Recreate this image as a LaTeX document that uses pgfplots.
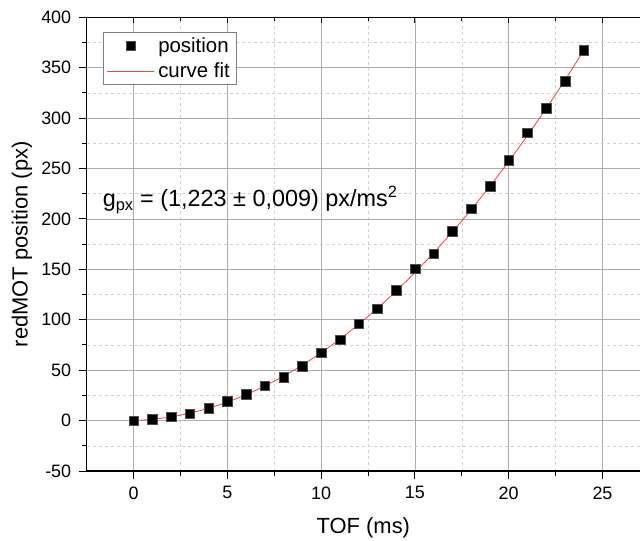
\documentclass[border=0pt]{standalone}
\usepackage{pgfplots}
\pgfplotsset{compat=1.18}
\usepackage{fontspec}
\setmainfont{Liberation Sans}
\definecolor{fitred}{RGB}{255,60,60}

\begin{document}
\begin{tikzpicture}
\begin{axis}[
  scale only axis, width=553.3bp, height=453.7bp,
  xmin=-2.5, xmax=27, ymin=-50, ymax=400,
  axis x line*=box, axis y line*=left,
  xtick pos=bottom,
  xtick={0,5,...,25}, ytick={-50,0,...,400},
  minor x tick num=1, minor y tick num=1,
  tick align=outside,
  major tick length=8bp, minor tick length=4.5bp,
  grid=both,
  major grid style={gray!65, line width=0.6bp},
  minor grid style={gray!35, dashed, line width=0.5bp},
  axis line style={line width=1.4bp},
  tick style={line width=1bp, black},
  /pgf/number format/assume math mode=true,
  ticklabel style={font=\fontsize{18}{22}\selectfont},
  yticklabel style={xshift=-4bp},
  xticklabel style={yshift=-4bp},
  xlabel={TOF (ms)}, ylabel={redMOT position (px)},
  label style={font=\fontsize{22}{26}\selectfont},
  xlabel style={at={(axis description cs:0.5,-0.1256)}, anchor=center},
  ylabel style={at={(axis description cs:-0.117,0.5)}, anchor=center},
  legend style={at={(axis description cs:0.0301,0.968)}, anchor=north west,
    draw=gray, line width=0.8bp, fill=white,
    font=\fontsize{20.5}{24}\selectfont, cells={anchor=west},
    inner xsep=3bp, inner ysep=3.5bp, row sep=5bp,
    nodes={inner xsep=3.5bp, inner ysep=2bp}},
  legend image code/.code={\draw[mark repeat=2,mark phase=2,#1] plot coordinates {(0bp,0bp) (23.5bp,0bp) (47bp,0bp)};},
]
\addplot[only marks, mark=square*, mark size=4.8bp,
  mark options={fill=black, draw=gray!60!black, line width=0.4bp}] coordinates {
(0,0) (1,1.3) (2,4) (3,7) (4,12.5) (5,19) (6,26) (7,34.5) (8,43.3) (9,54)
(10,67.5) (11,80.4) (12,96) (13,111) (14,129.5) (15,150.5) (16,165.7) (17,187.8)
(18,210.3) (19,232.4) (20,258.2) (21,285.5) (22,310.1) (23,336.6) (24,367.4)
};
\addlegendentry{position}
\addplot[draw=fitred, line width=0.8bp, smooth,
  legend image code/.code={\draw[draw=fitred, line width=1bp] (0bp,0bp) -- (47bp,0bp);}] coordinates {
(0,0) (1,1.23) (2,3.69) (3,7.36) (4,12.26) (5,18.39) (6,25.73) (7,34.30) (8,44.10)
(9,55.11) (10,67.35) (11,80.81) (12,95.50) (13,111.40) (14,128.53) (15,146.89)
(16,166.46) (17,187.26) (18,209.29) (19,232.53) (20,257.00) (21,282.70) (22,309.61)
(23,337.74) (24,367.10)
};
\addlegendentry{curve fit}
\node[anchor=west, inner sep=0pt, font=\fontsize{23.5}{28}\selectfont] at (axis cs:-1.65,219)
  {g\textsubscript{px} = (1,223 ± 0,009) px/ms\textsuperscript{2}};
\end{axis}
\begin{axis}[
  scale only axis, width=553.3bp, height=453.7bp,
  xmin=-2.5, xmax=27, ymin=-50, ymax=400,
  axis x line*=top, axis y line=none,
  axis line style={line width=1.4bp},
  xtick={0,5,...,25}, minor x tick num=1, xticklabels={},
  tick align=inside,
  major tick length=6bp, minor tick length=4bp,
  tick style={line width=1bp, black},
]
\end{axis}
\pgfresetboundingbox
\path[use as bounding box] ([xshift=-86.7bp,yshift=-70bp]current axis.south west) rectangle ([yshift=17.3bp]current axis.north east);
\end{tikzpicture}
\end{document}
